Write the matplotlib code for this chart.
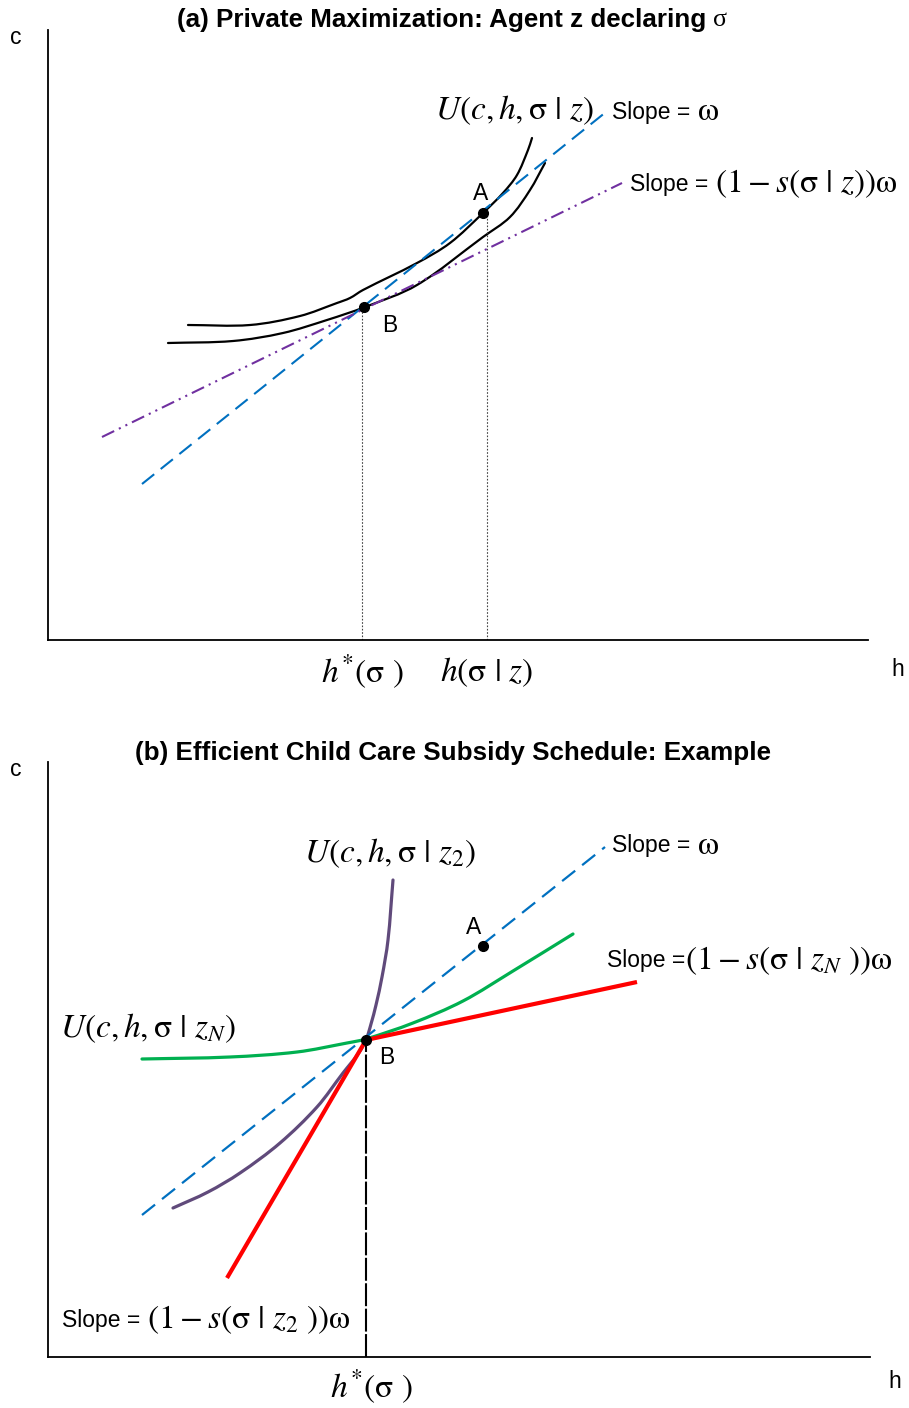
import numpy as np
import matplotlib
matplotlib.use('Agg')
import matplotlib.pyplot as plt
from matplotlib.path import Path
from matplotlib.patches import PathPatch

plt.rcParams['mathtext.fontset'] = 'stix'
plt.rcParams['font.family'] = ['Liberation Sans', 'DejaVu Sans']

# ---------------- Panel (a) data: (h, c) diagram units ----------------
a_budget_h = [94, 558]
a_budget_c = [156, 528]
a_subsidy_h = [54, 574]
a_subsidy_c = [203, 457]
a_upper_h = [140, 202, 252, 289, 302, 315, 369, 402, 435, 455, 469, 480, 484]
a_upper_c = [315, 315, 324, 337, 342, 350, 377, 397, 427, 447, 465, 490, 502]
a_lower_h = [120, 185, 235, 279, 317, 369, 435, 462, 482, 497]
a_lower_c = [297, 299, 307, 320, 333, 355, 403, 423, 450, 477]
a_pts_h = [435, 316]
a_pts_c = [427, 333]
a_pt_labels = ['A', 'B']
a_drop_h = [314, 439]
a_drop_c = [333, 427]
a_xlabels = [r'$h^{*}\left(\mathrm{\sigma}\ \right)$', r'$h\left(\mathrm{\sigma}\ |\ z\right)$']

# ---------------- Panel (b) data ----------------
b_budget_h = [94, 557]
b_budget_c = [142, 510]
b_z2_h = [125, 160, 192, 232, 269, 295, 310, 318, 323, 328, 334, 340, 345]
b_z2_c = [149, 165, 184, 214, 250, 284, 303, 317, 333, 352, 380, 417, 477]
b_zN_h = [94, 182, 249, 299, 318, 365, 415, 465, 525]
b_zN_c = [298, 300, 305, 314, 318, 334, 356, 386, 423]
b_subsidy_h = [179, 318, 589]
b_subsidy_c = [79, 317, 375]
b_pts_h = [435, 318]
b_pts_c = [411, 317]
b_pt_labels = ['A', 'B']
b_drop_h = [318]
b_drop_c = [317]

W, H = 909, 1408
fig = plt.figure(figsize=(W / 100, H / 100), dpi=100)

ax_a = fig.add_axes([48 / W, 1 - 640 / H, 820 / W, 610 / H])
ax_b = fig.add_axes([48 / W, 1 - 1357 / H, 822 / W, 595 / H])
ax_a.set_xlim(0, 820); ax_a.set_ylim(0, 610)
ax_b.set_xlim(0, 822); ax_b.set_ylim(0, 595)

for ax in (ax_a, ax_b):
    for s in ('top', 'right'):
        ax.spines[s].set_visible(False)
    for s in ('left', 'bottom'):
        ax.spines[s].set_linewidth(1.3)
        ax.spines[s].set_color('black')
    ax.set_xticks([]); ax.set_yticks([])
    ax.patch.set_alpha(0)

BLUE = '#0070C0'
PURPLE_A = '#7030A0'
PURPLE_B = '#604A7B'
GREEN = '#00B050'
RED = '#FF0000'
MATH_FS = 24
SANS_FS = 16.5
TITLE_FS = 18.7


def smooth_curve(ax, hs, cs, **kw):
    """Smooth cubic Bezier path through the read points (chord-length tangents)."""
    p = np.column_stack([hs, cs]).astype(float)
    n = len(p)
    d = np.linalg.norm(np.diff(p, axis=0), axis=1)
    tang = np.zeros_like(p)
    tang[0] = (p[1] - p[0]) / d[0]
    tang[-1] = (p[-1] - p[-2]) / d[-1]
    for i in range(1, n - 1):
        tang[i] = (p[i + 1] - p[i - 1]) / (d[i - 1] + d[i])
    verts = [p[0]]
    codes = [Path.MOVETO]
    for i in range(n - 1):
        c1 = p[i] + tang[i] * d[i] / 3.0
        c2 = p[i + 1] - tang[i + 1] * d[i] / 3.0
        verts += [c1, c2, p[i + 1]]
        codes += [Path.CURVE4] * 3
    patch = PathPatch(Path(verts, codes), facecolor='none', capstyle='round', **kw)
    ax.add_patch(patch)


def slope_label(ax, x, y, math, sep='Slope = '):
    t = ax.text(x, y, sep, fontsize=SANS_FS, ha='left', va='center')
    ax.annotate(math, xy=(1, 0.5), xycoords=t, ha='left', va='center',
                fontsize=MATH_FS)


# ---------------- Panel (a) ----------------
ax = ax_a
ax.plot(a_budget_h, a_budget_c, color=BLUE, lw=1.5, dashes=(7.5, 4), clip_on=False)
ax.plot(a_subsidy_h, a_subsidy_c, color=PURPLE_A, lw=1.5,
        dashes=(6.5, 2.5, 1, 2.5, 1, 2.5), clip_on=False)
smooth_curve(ax, a_upper_h, a_upper_c, edgecolor='black', lw=1.6)
smooth_curve(ax, a_lower_h, a_lower_c, edgecolor='black', lw=1.6)
for h, c in zip(a_drop_h, a_drop_c):
    ax.plot([h, h], [0, c], color='#444444', lw=0.8, linestyle=(0, (1.5, 1.5)))
ax.plot(a_pts_h, a_pts_c, 'o', color='black', ms=7, zorder=5)
ax.text(a_pts_h[0] - 2, a_pts_c[0] + 19, a_pt_labels[0], fontsize=SANS_FS, ha='center', va='center')
ax.text(a_pts_h[1] + 26, a_pts_c[1] - 19, a_pt_labels[1], fontsize=SANS_FS, ha='center', va='center')
for h, lab in zip(a_drop_h, a_xlabels):
    ax.text(h, -32, lab, fontsize=MATH_FS, ha='center', va='center')
ax.text(466, 530, r'$U\left(c,h,\mathrm{\sigma}\ |\ z\right)$', fontsize=MATH_FS, ha='center', va='center')
slope_label(ax, 564, 528, r'$\mathrm{\omega}$')
slope_label(ax, 582, 456, r'$\left(1-s\left(\mathrm{\sigma}\ |\ z\right)\right)\mathrm{\omega}$')
ax.text(-32, 603, 'c', fontsize=SANS_FS, ha='center', va='center')
ax.text(850, -30, 'h', fontsize=SANS_FS, ha='center', va='center')
tt = ax.text(129, 620, '(a) Private Maximization: Agent z declaring ', fontsize=TITLE_FS,
             fontweight='bold', ha='left', va='center')
ax.annotate('σ', xy=(1, 0.5), xycoords=tt, ha='left', va='center', fontsize=TITLE_FS,
            family=['Liberation Serif', 'DejaVu Serif'])

# ---------------- Panel (b) ----------------
ax = ax_b
ax.plot(b_budget_h, b_budget_c, color=BLUE, lw=1.6, dashes=(7.5, 4), clip_on=False)
smooth_curve(ax, b_zN_h, b_zN_c, edgecolor=GREEN, lw=2.3)
smooth_curve(ax, b_z2_h, b_z2_c, edgecolor=PURPLE_B, lw=2.3)
ax.plot(b_subsidy_h, b_subsidy_c, color=RED, lw=3, solid_capstyle='butt')
for h, c in zip(b_drop_h, b_drop_c):
    ax.plot([h, h], [0, c], color='black', lw=1.5, dashes=(11, 1.2))
ax.plot(b_pts_h, b_pts_c, 'o', color='black', ms=7, zorder=5)
ax.text(b_pts_h[0] - 9, b_pts_c[0] + 18, b_pt_labels[0], fontsize=SANS_FS, ha='center', va='center')
ax.text(b_pts_h[1] + 21, b_pts_c[1] - 18, b_pt_labels[1], fontsize=SANS_FS, ha='center', va='center')
ax.text(323, -30, r'$h^{*}\left(\mathrm{\sigma}\ \right)$', fontsize=MATH_FS, ha='center', va='center')
ax.text(342, 504, r'$U\left(c,h,\mathrm{\sigma}\ |\ z_{2}\right)$', fontsize=MATH_FS, ha='center', va='center')
ax.text(12, 329, r'$U\left(c,h,\mathrm{\sigma}\ |\ z_{N}\right)$', fontsize=MATH_FS, ha='left', va='center')
slope_label(ax, 564, 511, r'$\mathrm{\omega}$')
slope_label(ax, 559, 396, r'$\left(1-s\left(\mathrm{\sigma}\ |\ z_{N}\ \right)\right)\mathrm{\omega}$', sep='Slope =')
slope_label(ax, 14, 37, r'$\left(1-s\left(\mathrm{\sigma}\ |\ z_{2}\ \right)\right)\mathrm{\omega}$')
ax.text(-32, 587, 'c', fontsize=SANS_FS, ha='center', va='center')
ax.text(847, -24, 'h', fontsize=SANS_FS, ha='center', va='center')
ax.text(87, 604, '(b) Efficient Child Care Subsidy Schedule: Example', fontsize=TITLE_FS,
        fontweight='bold', ha='left', va='center')

fig.savefig('out.png', dpi=100)
